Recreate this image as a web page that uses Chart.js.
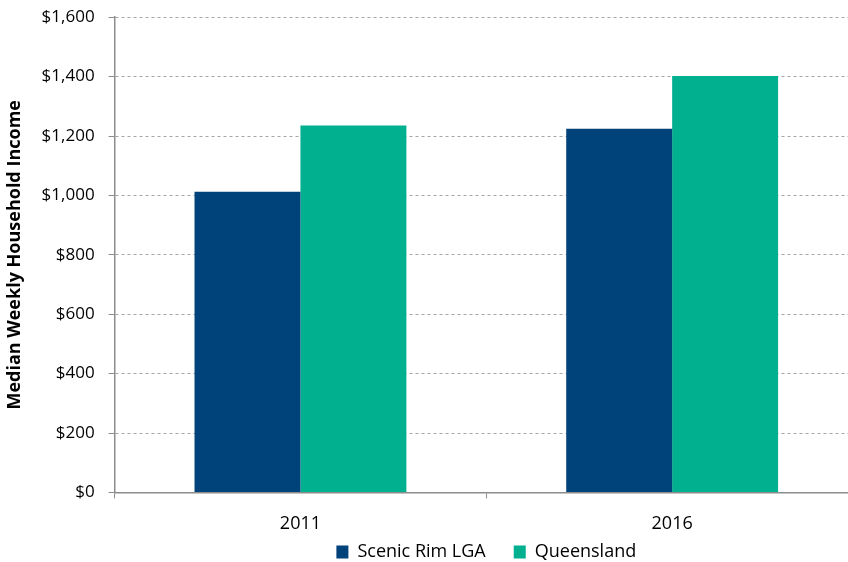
<!DOCTYPE html>
<html>
<head>
<meta charset="utf-8">
<script src="https://cdn.jsdelivr.net/npm/chart.js@4"></script>
<style>
  html, body { margin: 0; padding: 0; background: #fff; overflow: hidden; }
  #wrap { width: 858px; height: 613px; margin-top: -7px; position: relative; }
</style>
</head>
<body>
<div id="wrap"><canvas id="chart-income"></canvas></div>
<script>
var years = ["2011", "2016"];
var scenicRim = [1012, 1224];
var queensland = [1235, 1402];

var font = "'Open Sans', sans-serif";
Chart.defaults.font.family = font;
Chart.defaults.color = "#000";

// pull the legend up closer to the category labels
var liftLegend = {
    id: 'liftLegend',
    afterLayout: function(chart) {
        chart.legend.top -= 35;
        chart.legend.bottom -= 35;
    }
};

var ctx = document.getElementById('chart-income');
var income = new Chart(ctx, {
    type: 'bar',
    data: {
        labels: years,
        datasets: [{
            label: "Scenic Rim LGA",
            data: scenicRim,
            backgroundColor: "#00427a"
        }, {
            label: "Queensland",
            data: queensland,
            backgroundColor: "#00b08f"
        }]
    },
    plugins: [liftLegend],
    options: {
        responsive: true,
        maintainAspectRatio: false,
        animation: false,
        layout: { padding: { top: 0, left: 4, right: 0, bottom: 0 } },
        datasets: { bar: { categoryPercentage: 0.57, barPercentage: 1 } },
        plugins: {
            legend: {
                position: 'bottom',
                fullSize: false,
                labels: { boxWidth: 12, boxHeight: 13, padding: 28, font: { size: 18 } }
            },
            tooltip: { enabled: false }
        },
        scales: {
            x: {
                grid: { offset: true, drawOnChartArea: false, drawTicks: true, tickLength: 6, color: "#8c8c8c" },
                border: { color: "#8c8c8c", width: 1.5 },
                ticks: { font: { size: 18 }, padding: 15 }
            },
            y: {
                min: 0,
                max: 1600,
                ticks: {
                    stepSize: 200,
                    padding: 14,
                    font: { size: 17 },
                    callback: function(v) { return "$" + v.toLocaleString("en-US"); }
                },
                grid: { color: "#a6a6a6", tickColor: "#8c8c8c", tickLength: 6, tickBorderDash: [] },
                border: { color: "#8c8c8c", width: 1.5, dash: [3, 3] },
                title: {
                    display: true,
                    text: "Median Weekly Household Income",
                    font: { size: 18, weight: 'bold' },
                    padding: { top: 0, bottom: 2 }
                }
            }
        }
    }
});
</script>
</body>
</html>
